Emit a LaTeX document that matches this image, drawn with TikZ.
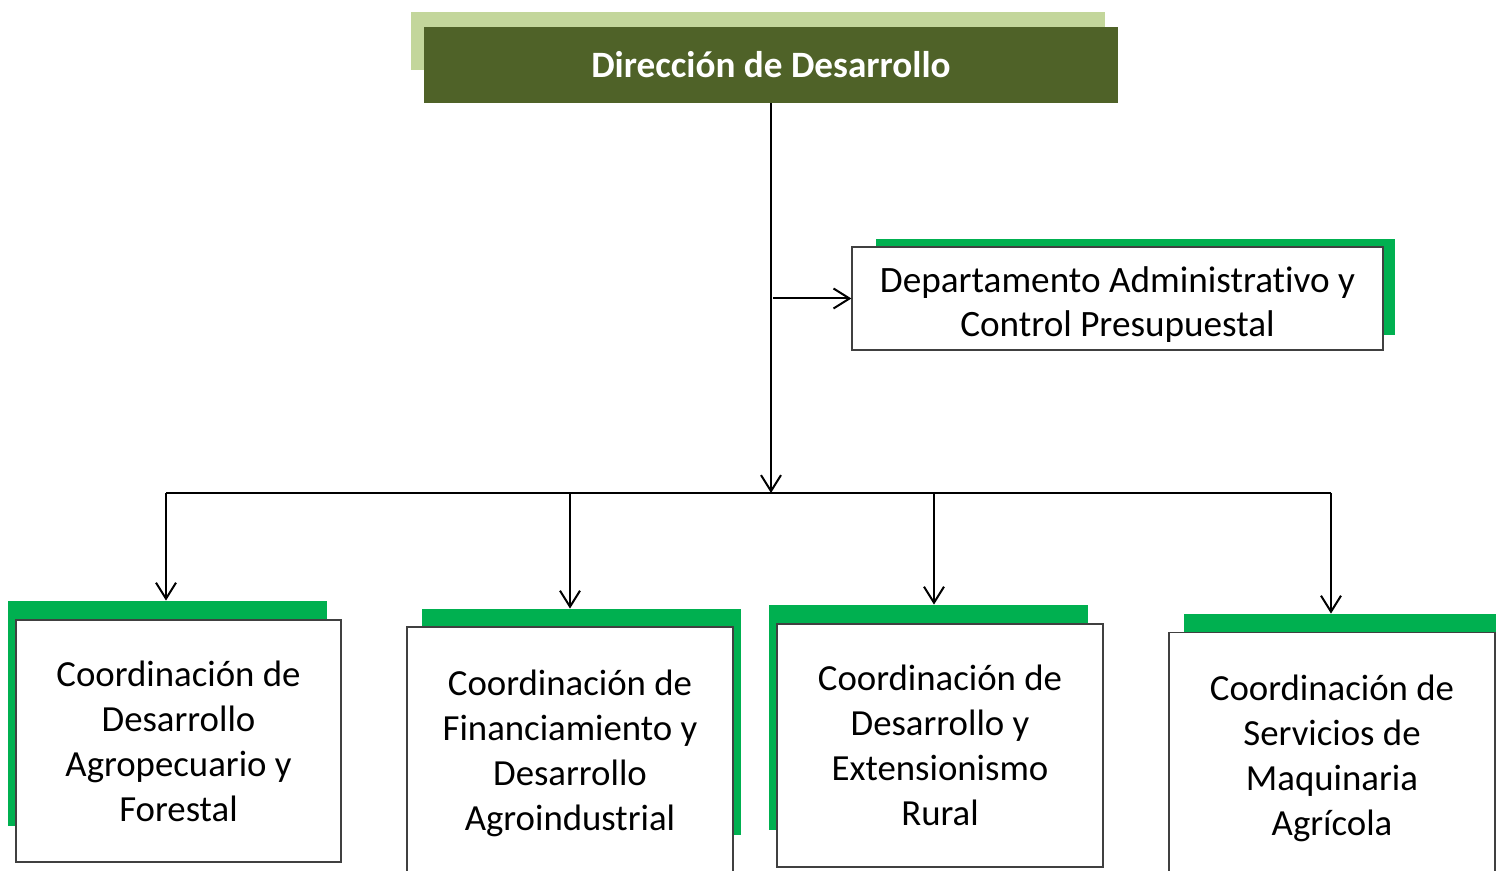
\documentclass[tikz,border=0pt]{standalone}
\usepackage{fontspec}
\setmainfont{Carlito}[Ligatures={NoCommon}]
\usepackage{xcolor}
\usetikzlibrary{arrows.meta,positioning}

\definecolor{paleolive}{HTML}{C3D69B}
\definecolor{darkolive}{HTML}{4F6228}
\definecolor{bargreen}{HTML}{00B050}

\tikzset{
  headbox/.style={rectangle,fill=darkolive,text=white,inner sep=0pt,
    font=\fontsize{18.6}{22}\selectfont\bfseries},
  unitbox/.style={rectangle,draw=black!75,fill=white,line width=0.6pt,inner sep=0pt,
    align=center,font=\fontsize{18.4}{22.5}\selectfont},
  unittext/.style={inner sep=0pt,align=center,font=\fontsize{18.6}{22}\selectfont},
  backbar/.style={rectangle,fill=bargreen,inner sep=0pt,minimum width=159.5pt},
  link/.style={line width=1pt,-{Straight Barb[length=8pt,width=10pt]}}
}

\begin{document}
\begin{tikzpicture}[x=0.5pt,y=-0.5pt]
  \useasboundingbox (0,0) rectangle (1496,871);
  \clip (0,0) rectangle (1496,871);

  % head
  \node (headback) [rectangle,fill=paleolive,minimum width=347pt,minimum height=29pt] at (758,41) {};
  \node (head) [headbox,minimum width=347pt,minimum height=38pt] at (771,65) {Dirección de Desarrollo};

  % department
  \node (deptback) [backbar,minimum width=259.5pt,minimum height=48pt] at (1135.5,287) {};
  \node (dept) [unitbox,minimum width=265.5pt,minimum height=51.5pt] at (1117.5,298.5) {};
  \node (depttext) [unittext] at ([yshift=-3pt]dept.center)
    {Departamento Administrativo y\\Control Presupuestal};

  % coordinations
  \node (agroback) [backbar,minimum height=112.5pt] at (167.5,713.5) {};
  \node (finanback) [backbar,minimum height=113pt] at (581.5,722) {};
  \node (rurback) [backbar,minimum height=112.5pt] at (928.5,717.5) {};
  \node (maqback) [backbar,minimum height=113pt] at (1343.5,727) {};

  \node (agro) [unitbox,minimum width=162.5pt,minimum height=121pt] at (178.5,741)
    {Coordinación de\\Desarrollo\\Agropecuario y\\Forestal};
  \node (finan) [unitbox,minimum width=163pt,minimum height=126pt] at (570,753)
    {Coordinación de\\Financiamiento y\\Desarrollo\\Agroindustrial};
  \node (rur) [unitbox,minimum width=163pt,minimum height=121.5pt] at (940,745.5)
    {Coordinación de\\Desarrollo y\\Extensionismo\\Rural};
  \node (maq) [unitbox,minimum width=163pt,minimum height=126pt] at (1332,758.5)
    {Coordinación de\\Servicios de\\Maquinaria\\Agrícola};

  % links
  \coordinate (hub) at (771,493);
  \draw[link] (head.south) -- (hub);
  \draw[link] ([xshift=1pt]head.south |- dept.west) -- (dept.west);
  \draw[line width=1pt] ([xshift=-0.75pt]agroback.north |- hub) -- ([xshift=-0.5pt]maq.north |- hub);
  \draw[link] ([xshift=-0.75pt]agroback.north |- hub) -- ([xshift=-0.75pt]agroback.north);
  \draw[link] (finan.north |- hub) -- (finan.north |- finanback.north);
  \draw[link] ([xshift=-3pt]rur.north |- hub) -- ([xshift=-3pt]rur.north |- rurback.north);
  \draw[link] ([xshift=-0.5pt]maq.north |- hub) -- ([xshift=-0.5pt]maq.north |- maqback.north);

\end{tikzpicture}
\end{document}
